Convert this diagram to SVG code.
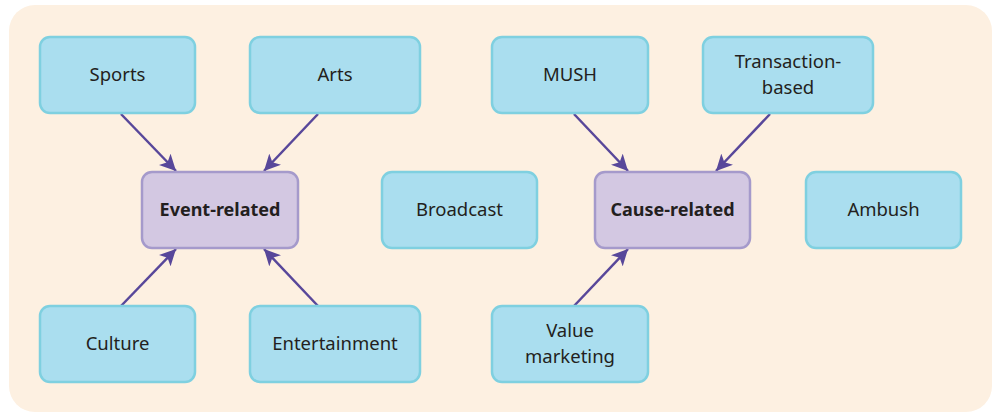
<svg xmlns="http://www.w3.org/2000/svg" width="994" height="413" viewBox="0 0 994 413">
<defs>
<marker id="ah" viewBox="0 0 10 10" refX="10" refY="5" markerWidth="6.5" markerHeight="6.5" orient="auto" markerUnits="strokeWidth">
<path d="M0,0 L10,5 L0,10 L2.5,5 Z" fill="#58479a"/>
</marker>
<style>
.bg{fill:#fdf0e1}
.n rect{fill:#aadeef;stroke:#7fd0e0;stroke-width:2.5}
.h rect{fill:#d3c8e2;stroke:#a59acb;stroke-width:2.5}
text{font-family:"Noto Sans","Open Sans",sans-serif;font-size:18.5px;fill:#231f20;text-anchor:middle}
.h text{font-weight:bold;font-size:18px}
.c line{stroke:#58479a;stroke-width:2.5;marker-end:url(#ah)}
</style>
</defs>
<rect class="bg" x="9" y="5" width="983" height="407" rx="26"/>
<g class="c">
<line x1="121" y1="114" x2="176" y2="171"/>
<line x1="318" y1="114" x2="264" y2="171"/>
<line x1="121" y1="306" x2="176" y2="249"/>
<line x1="318" y1="306" x2="264" y2="249"/>
<line x1="574" y1="114" x2="628" y2="171"/>
<line x1="770" y1="114" x2="716" y2="171"/>
<line x1="574" y1="306" x2="628" y2="249"/>
</g>
<g id="sports" class="n"><rect x="40" y="37" width="155" height="76" rx="10"/><text x="117.5" y="81">Sports</text></g>
<g id="arts" class="n"><rect x="250" y="37" width="170" height="76" rx="10"/><text x="335" y="81">Arts</text></g>
<g id="mush" class="n"><rect x="492" y="37" width="156" height="76" rx="10"/><text x="570" y="81">MUSH</text></g>
<g id="transaction" class="n"><rect x="703" y="37" width="170" height="76" rx="10"/><text x="788" y="68">Transaction-</text><text x="788" y="94">based</text></g>
<g id="event" class="h"><rect x="142" y="172" width="156" height="76" rx="10"/><text x="220" y="216">Event-related</text></g>
<g id="broadcast" class="n"><rect x="382" y="172" width="155" height="76" rx="10"/><text x="459.5" y="216">Broadcast</text></g>
<g id="cause" class="h"><rect x="595" y="172" width="155" height="76" rx="10"/><text x="672.5" y="216">Cause-related</text></g>
<g id="ambush" class="n"><rect x="806" y="172" width="155" height="76" rx="10"/><text x="883.5" y="216">Ambush</text></g>
<g id="culture" class="n"><rect x="40" y="306" width="155" height="76" rx="10"/><text x="117.5" y="350">Culture</text></g>
<g id="entertainment" class="n"><rect x="250" y="306" width="170" height="76" rx="10"/><text x="335" y="350">Entertainment</text></g>
<g id="value" class="n"><rect x="492" y="306" width="156" height="76" rx="10"/><text x="570" y="337">Value</text><text x="570" y="363">marketing</text></g>
</svg>
